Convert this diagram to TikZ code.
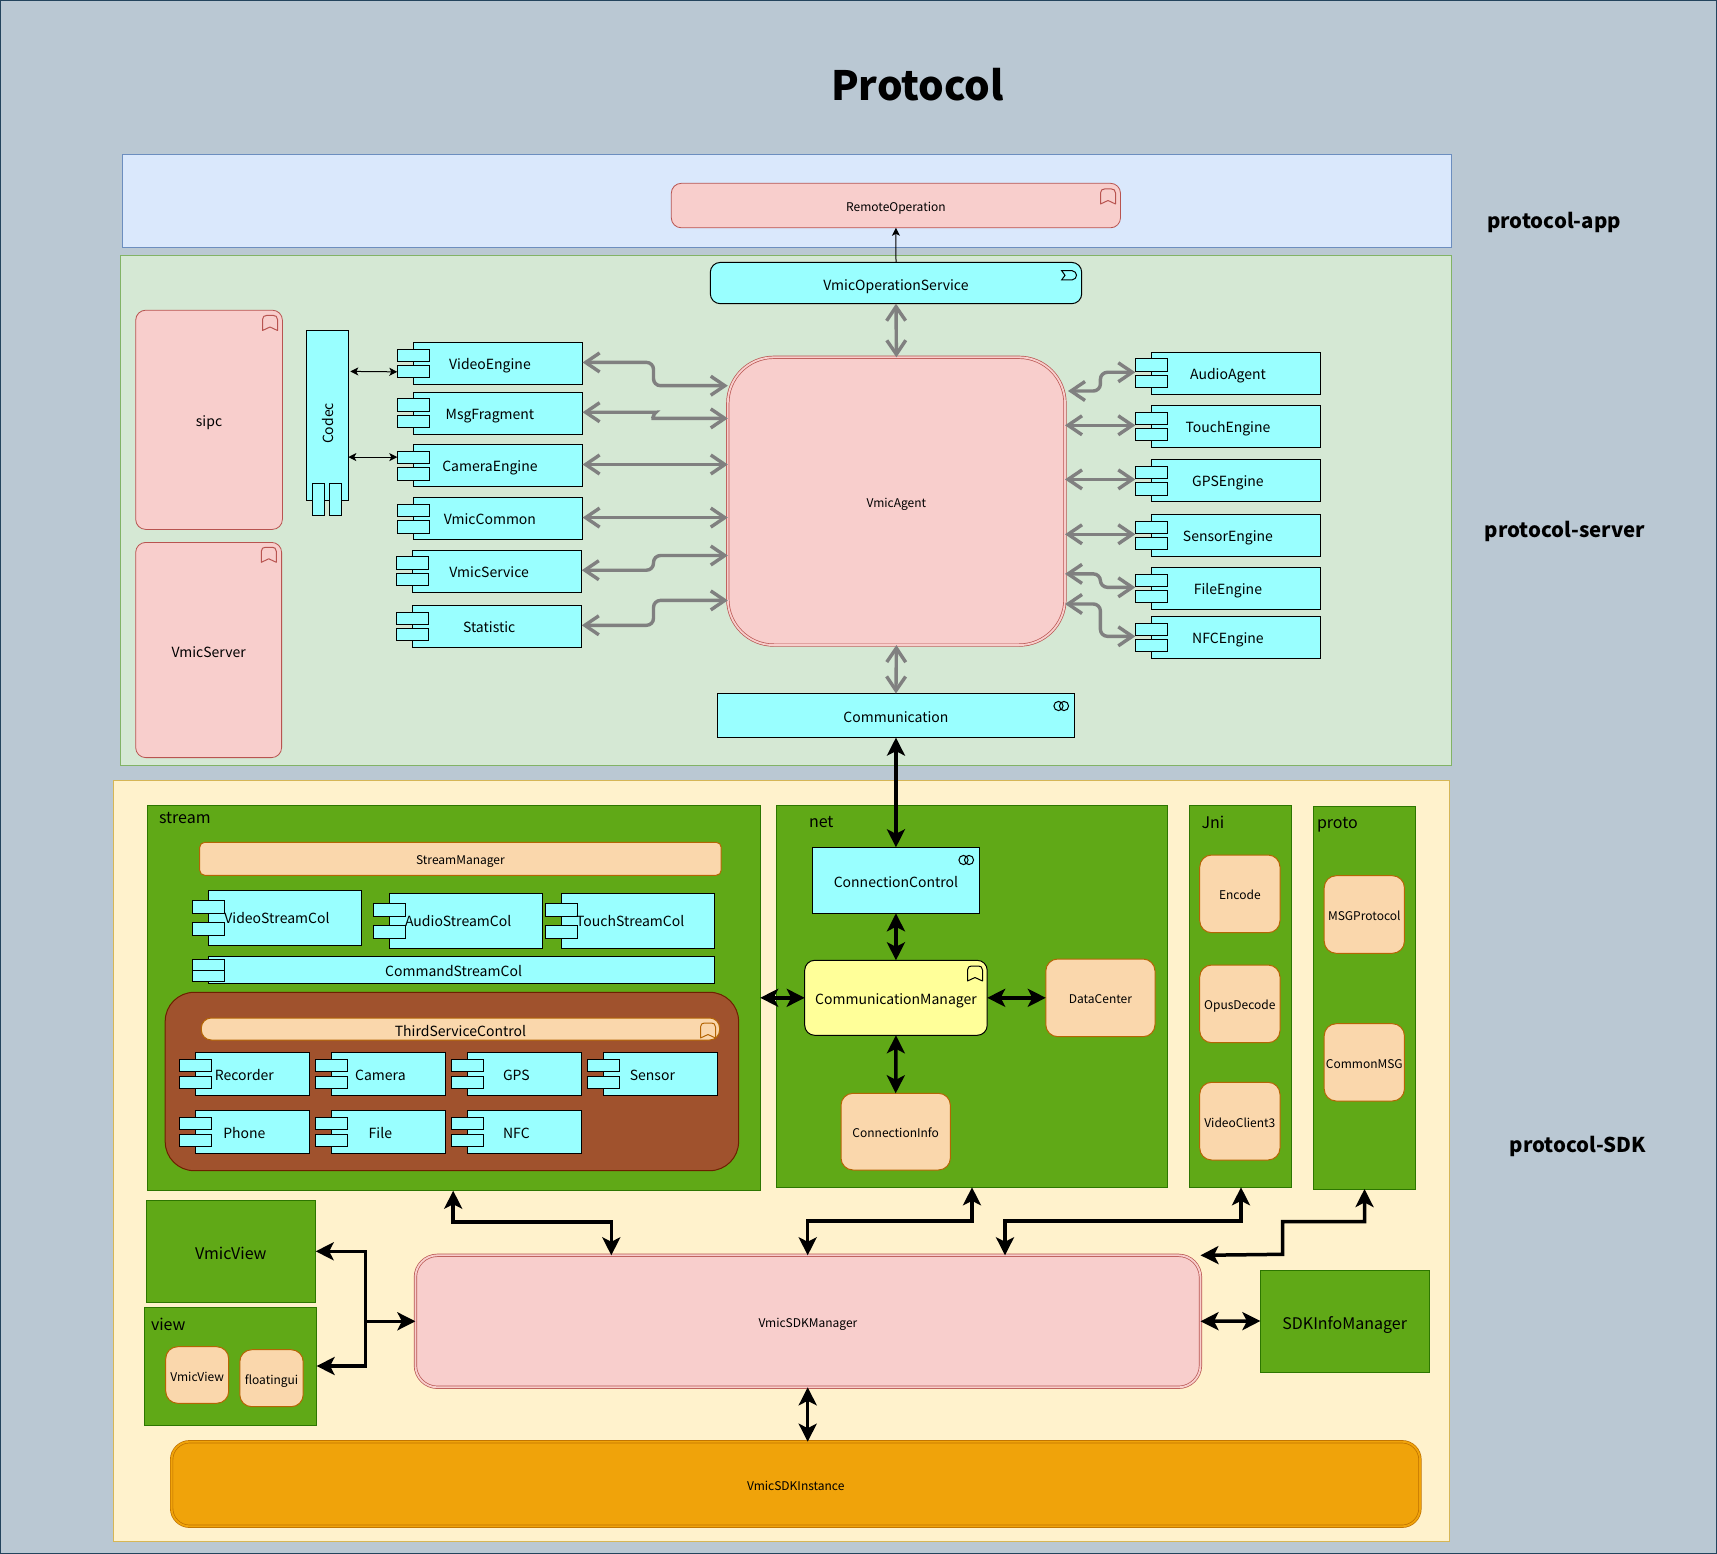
\documentclass[tikz,border=0pt]{standalone}
\usepackage{fontspec}
\setmainfont{Noto Sans CJK SC}
\usetikzlibrary{arrows.meta}
\definecolor{bgc}{HTML}{BAC8D3}\definecolor{bgb}{HTML}{23445D}
\definecolor{bluef}{HTML}{DAE8FC}\definecolor{blueb}{HTML}{6C8EBF}
\definecolor{greenf}{HTML}{D5E8D4}\definecolor{greenb}{HTML}{82B366}
\definecolor{yelf}{HTML}{FFF2CC}\definecolor{yelb}{HTML}{D6B656}
\definecolor{pinkf}{HTML}{F8CECC}\definecolor{pinkb}{HTML}{B85450}
\definecolor{cyanf}{HTML}{99FFFF}
\definecolor{grpf}{HTML}{60A917}\definecolor{grpb}{HTML}{2D7600}
\definecolor{orf}{HTML}{FAD7AC}\definecolor{orb}{HTML}{B46504}
\definecolor{brf}{HTML}{A0522D}\definecolor{brb}{HTML}{6D1F00}
\definecolor{amf}{HTML}{F0A30A}\definecolor{amb}{HTML}{BD7000}
\definecolor{cmf}{HTML}{FFFF99}
\definecolor{gar}{HTML}{808080}
\tikzset{
 every node/.style={inner sep=0pt,outer sep=0pt,font=\fontsize{14}{17}\selectfont},
 laneblue/.style={draw=blueb,fill=bluef,line width=1pt},
 lanegreen/.style={draw=greenb,fill=greenf,line width=1pt},
 laneyellow/.style={draw=yelb,fill=yelf,line width=1pt},
 pinkbox/.style={draw=pinkb,fill=pinkf,line width=.8pt,rounded corners=10pt},
 pinkdouble/.style={draw=pinkb,double=pinkf,double distance=1.8pt,line width=.7pt,fill=pinkf,rounded corners=#1},
 cyanbox/.style={draw=black,fill=cyanf,line width=1pt},
 groupbox/.style={draw=grpb,fill=grpf,line width=1pt},
 orbox/.style={draw=orb,fill=orf,line width=1pt,rounded corners=12pt},
 small/.style={font=\fontsize{12}{14}\selectfont},
 bigtext/.style={font=\fontsize{16}{19}\selectfont},
 glabel/.style={font=\fontsize{16}{19}\selectfont,anchor=west},
 side/.style={font=\fontsize{20.4}{24}\selectfont\bfseries},
 grayarrow/.style={draw=gar,line width=3.4pt,rounded corners=7pt,{Straight Barb[length=14pt,width=19pt]}-{Straight Barb[length=14pt,width=19pt]}},
 blackarrow/.style={draw=black,line width=3.5pt,{Stealth[length=18pt,width=18pt,inset=4.5pt]}-{Stealth[length=18pt,width=18pt,inset=4.5pt]}},
 thinarrow/.style={draw=black,line width=1pt,{Stealth[length=8pt,width=8pt,inset=2pt]}-{Stealth[length=8pt,width=8pt,inset=2pt]}},
 iconline/.style={line width=1pt,fill=none},
}
% name, style, x1, y1, x2, y2, text
\newcommand\bx[7]{\pgfmathsetmacro\wa{(#5)-(#3)}\pgfmathsetmacro\ha{(#6)-(#4)}%
 \node[#2,minimum width=\wa pt,minimum height=\ha pt,anchor=north west] (#1) at (#3,#4) {\raisebox{-.5em}[0pt][0pt]{#7}};}
% server engine: name, x (tab left), y1, y2, text
\newcommand\seng[5]{%
 \bx{#1b}{cyanbox}{#2+16}{#3}{#2+185.3}{#4}{}%
 \bx{#1s}{cyanbox}{#2}{#3+6.7}{#2+32.3}{#3+19}{}%
 \bx{#1t}{cyanbox}{#2}{#3+23.3}{#2+32.3}{#3+35.6}{}%
 \bx{#1}{}{#2}{#3-1}{#2+185.3}{#4-1}{#5}}
% stream component: name, x, y, text
\newcommand\tcomp[4]{%
 \bx{#1b}{cyanbox}{#2+16.2}{#3}{#2+130.2}{#3+43}{}%
 \bx{#1s}{cyanbox}{#2}{#3+7}{#2+32.4}{#3+19}{}%
 \bx{#1t}{cyanbox}{#2}{#3+24}{#2+32.4}{#3+36}{}%
 \bx{#1}{}{#2}{#3}{#2+130.2}{#3+43}{#4}}
\newcommand\mybook[3]{% x y colour
 \draw[iconline,draw=#3,line join=round] (#1,#2+4) .. controls (#1+0,#2+1) and (#1+2,#2) .. (#1+4,#2) -- (#1+11,#2) .. controls (#1+13,#2) and (#1+15,#2+1) .. (#1+15,#2+4) -- (#1+15,#2+15) -- (#1+7.5,#2+11.5) -- (#1,#2+15) -- cycle;}
\newcommand\mycollab[2]{%
 \draw[iconline,draw=black] (#1+5,#2+5) circle (4.6pt) (#1+10.5,#2+5) circle (4.6pt);}
\begin{document}
\begin{tikzpicture}[x=1pt,y=-1pt]
\useasboundingbox (0,0) rectangle (1717,1554);
\draw[fill=bgc,draw=bgb,line width=1.5pt] (0.5,0.5) rectangle (1716.5,1553.5);
\node[font=\fontsize{40.4}{48}\selectfont\bfseries] (title) at (917.5,85) {Protocol};
\bx{lapp}{laneblue}{122.4}{154.3}{1451}{247.8}{}
\bx{lserver}{lanegreen}{120.3}{255.5}{1451}{765.3}{}
\bx{lsdk}{laneyellow}{113}{780}{1449.5}{1541.5}{}
\node[side] (sapp) at (1554,222) {protocol-app};
\node[side] (sserver) at (1565,531) {protocol-server};
\node[side] (ssdk) at (1578,1146) {protocol-SDK};
% app
\bx{remote}{pinkbox,small}{671.3}{183.3}{1120.5}{227.8}{RemoteOperation}
\mybook{1100.5}{189}{pinkb}
% server
\bx{opservice}{cyanbox,rounded corners=10pt}{710.3}{262.4}{1081.7}{303.7}{VmicOperationService}
\draw[iconline,draw=black] (1061.6,270.6) -- (1072,270.6) .. controls (1078,271.5) and (1078,279) .. (1072,280) -- (1061.6,280) -- (1065,275.3) -- cycle;
\bx{sipc}{pinkbox}{135.7}{310.2}{282.4}{529.4}{sipc}
\mybook{262.5}{315.5}{pinkb}
\bx{vserver}{pinkbox}{135.7}{542.4}{281.6}{757.6}{VmicServer}
\mybook{261.3}{547.3}{pinkb}
% codec
\bx{codecb}{cyanbox}{306}{330.2}{348.3}{500.4}{}
\bx{codecs}{cyanbox}{312.3}{483.7}{324.7}{515.9}{}
\bx{codect}{cyanbox}{329.3}{483.7}{341.7}{515.9}{}
\node[rotate=90] (codec) at (328,423.5) {Codec};
% engines
\seng{video}{397.3}{342.4}{384.5}{VideoEngine}
\seng{msg}{397.3}{392.2}{434.3}{MsgFragment}
\seng{camera}{397.3}{444.5}{486.5}{CameraEngine}
\seng{common}{397.3}{497.6}{539.6}{VmicCommon}
\seng{service}{396.5}{550.2}{592.2}{VmicService}
\seng{statistic}{396.5}{605.3}{647.3}{Statistic}
\seng{audio}{1135.3}{352.2}{394.3}{AudioAgent}
\seng{touch}{1135.3}{405.3}{447.3}{TouchEngine}
\seng{gps}{1135.3}{459.6}{501.2}{GPSEngine}
\seng{sensor}{1135.3}{514.3}{556.3}{SensorEngine}
\seng{file}{1135.3}{567.3}{609.4}{FileEngine}
\seng{nfc}{1135.3}{616.3}{658.4}{NFCEngine}
\bx{agent}{pinkdouble=46pt,small}{727.8}{357.3}{1065}{645.1}{VmicAgent}
\bx{communication}{cyanbox}{717.4}{693.5}{1074.5}{737.6}{Communication}
\mycollab{1053.5}{701}
% stream
\bx{stream}{groupbox}{147}{805}{760.2}{1190.7}{}
\node[glabel] (streaml) at (159,818) {stream};
\bx{smanager}{orbox,rounded corners=5pt,small}{199.7}{842.3}{721.2}{875.3}{StreamManager}
\bx{vcolb}{cyanbox}{208.4}{890.3}{361.3}{945.3}{}
\bx{vcols}{cyanbox}{192.6}{900.7}{224.5}{913.3}{}
\bx{vcolt}{cyanbox}{192.6}{922.7}{224.5}{935.3}{}
\bx{vcol}{}{192.6}{889.3}{361.3}{944.3}{VideoStreamCol}
\bx{acolb}{cyanbox}{389.5}{893.3}{542.5}{948.3}{}
\bx{acols}{cyanbox}{373.8}{903.7}{405.7}{916.3}{}
\bx{acolt}{cyanbox}{373.8}{925.7}{405.7}{938.3}{}
\bx{acol}{}{373.8}{892.3}{542.5}{947.3}{AudioStreamCol}
\bx{tcolb}{cyanbox}{561.6}{893.3}{714.6}{948.3}{}
\bx{tcols}{cyanbox}{545.8}{903.7}{577.8}{916.3}{}
\bx{tcolt}{cyanbox}{545.8}{925.7}{577.8}{938.3}{}
\bx{tcol}{}{545.8}{892.3}{714.6}{947.3}{TouchStreamCol}
\bx{ccolb}{cyanbox}{208.4}{956.7}{714.6}{983.3}{}
\bx{ccols}{cyanbox}{192.6}{959}{224.5}{970.3}{}
\bx{ccolt}{cyanbox}{192.6}{970.3}{224.5}{981.3}{}
\bx{ccol}{}{192.6}{955.7}{714.6}{982.3}{CommandStreamCol}
\bx{third}{draw=brb,fill=brf,line width=1pt,rounded corners=29pt}{165.2}{992.3}{738.6}{1170.7}{}
\bx{tsc}{orbox,rounded corners=10pt}{201.3}{1018}{719.6}{1040}{ThirdServiceControl}
\mybook{700.5}{1023}{orb}
\tcomp{recorder}{179.3}{1052.3}{Recorder}
\tcomp{camerat}{315.3}{1052.3}{Camera}
\tcomp{gpst}{451.3}{1052.3}{GPS}
\tcomp{sensort}{587.3}{1052.3}{Sensor}
\tcomp{phone}{179.3}{1110.3}{Phone}
\tcomp{filet}{315.3}{1110.3}{File}
\tcomp{nfct}{451.3}{1110.3}{NFC}
% net
\bx{net}{groupbox}{776}{805}{1167.6}{1187.3}{}
\node[glabel] (netl) at (809,822.5) {net};
\bx{cc}{cyanbox}{812.5}{847.3}{979.4}{913.3}{ConnectionControl}
\mycollab{958.5}{855}
\bx{cm}{draw=black,fill=cmf,line width=1pt,rounded corners=10pt}{804.7}{960.3}{987.2}{1035.3}{CommunicationManager}
\mybook{967.5}{966}{black}
\bx{dc}{orbox,small}{1045.8}{959}{1155}{1036.7}{DataCenter}
\bx{ci}{orbox,small}{841}{1093.3}{950.4}{1170}{ConnectionInfo}
% jni
\bx{jni}{groupbox}{1189.3}{805}{1291.6}{1187.3}{}
\node[glabel] (jnil) at (1201.5,822) {Jni};
\bx{encode}{orbox,small}{1199.7}{855}{1280}{932.7}{Encode}
\bx{opus}{orbox,small}{1199.7}{965}{1280}{1042.7}{OpusDecode}
\bx{vc3}{orbox,small}{1199.7}{1082.3}{1280}{1160}{VideoClient3}
% proto
\bx{proto}{groupbox}{1313.3}{806.7}{1415.7}{1189}{}
\node[glabel] (protol) at (1317,824.5) {proto};
\bx{msgp}{orbox,small}{1324.2}{875.7}{1404.4}{953.3}{MSGProtocol}
\bx{cmsg}{orbox,small}{1324.2}{1023.7}{1404.4}{1101}{CommonMSG}
% view
\bx{vmicview}{groupbox,bigtext}{146}{1200.3}{315.7}{1302.7}{VmicView}
\bx{view}{groupbox}{144.8}{1307.3}{316.6}{1425.7}{}
\node[glabel] (viewl) at (151,1324.3) {view};
\bx{iview}{orbox,small}{165.7}{1346.7}{228.7}{1403.3}{VmicView}
\bx{floating}{orbox,small}{239.8}{1349.7}{303.2}{1406.7}{floatingui}
\bx{sdkm}{pinkdouble=22pt,small}{415.4}{1255.3}{1200.5}{1387.3}{VmicSDKManager}
\bx{info}{groupbox,bigtext}{1260.4}{1270}{1429}{1372}{SDKInfoManager}
\bx{inst}{draw=amb,double=amf,double distance=1.8pt,line width=.7pt,fill=amf,rounded corners=18pt,small}{171.6}{1441.7}{1420}{1526.3}{VmicSDKInstance}
% connectors
\draw[draw=black,line width=1pt,-{Stealth[length=8pt,width=8pt,inset=2pt]}] (opservice.north) -- (remote.south);
\draw[grayarrow] (opservice.south) -- (agent.north);
\draw[grayarrow] (agent.south) -- (communication.north);
\draw[thinarrow] (codecb.east |- 0,371.4) ++(2,0) -- (videot.west);
\draw[thinarrow] (codecb.east |- 0,457.1) -- (camera.west |- 0,457.1);
\draw[grayarrow] (video.east) -- (653.5,362.4) -- (653.5,385.7) -- (agent.west |- 0,385.7);
\draw[grayarrow] (msg.east) -- (649,412.2) .. controls (655,412.2) and (652,418.4) .. (660,418.4) -- (agent.west |- 0,418.4);
\draw[grayarrow] (camera.east) -- (agent.west |- camera.east);
\draw[grayarrow] (common.east) -- (agent.west |- common.east);
\draw[grayarrow] (service.east) -- (653.5,570.2) -- (653.5,555.5) -- (agent.west |- 0,555.5);
\draw[grayarrow] (statistic.east) -- (653.5,625.3) -- (653.5,600.4) -- (agent.west |- 0,600.4);
\draw[grayarrow] (agent.east |- 0,391) ++(3,0) -- (1100.4,391) -- (1100.4,372.3) -- (audio.west);
\draw[grayarrow] (agent.east |- touch.west) -- (touch.west);
\draw[grayarrow] (agent.east |- gps.west) -- (gps.west);
\draw[grayarrow] (agent.east |- sensor.west) -- (sensor.west);
\draw[grayarrow] (agent.east |- 0,573.9) -- (1100.4,573.9) -- (1100.4,587.3) -- (file.west);
\draw[grayarrow] (agent.east |- 0,604) -- (1100.4,604) -- (1100.4,636.3) -- (nfc.west);
\draw[blackarrow] (communication.south) -- (cc.north);
\draw[blackarrow] (cc.south) -- (cm.north);
\draw[blackarrow] (cm.south) -- (ci.north);
\draw[blackarrow] (cm.east) -- (dc.west |- cm.east);
\draw[blackarrow] (stream.east |- cm.west) -- (cm.west);
\draw[blackarrow] (453.2,1190.7) -- (453.2,1222) -- (611.3,1222) -- (sdkm.north -| 611.3,0);
\draw[blackarrow] (972,1187.3) -- (972,1221) -- (807.7,1221) -- (sdkm.north -| 807.7,0);
\draw[blackarrow] (1241,1187.3) -- (1241,1221) -- (1005,1221) -- (sdkm.north -| 1005,0);
\draw[blackarrow] (1364.5,1189) -- (1364.5,1221.7) -- (1282.5,1221.7) -- (1282.5,1254.3) -- (sdkm.north east);
\coordinate (jct) at (365.3,1321.3);
\draw[blackarrow] (vmicview.east |- 0,1251.3) -- (365.3,1251.3) -- (365.3,1366) -- (view.east |- 0,1366);
\draw[draw=black,line width=3.5pt,-{Stealth[length=18pt,width=18pt,inset=4.5pt]}] (jct) -- (sdkm.west);
\draw[blackarrow] (sdkm.east) -- (info.west);
\draw[blackarrow] (sdkm.south -| 807.7,0) -- (inst.north -| 807.7,0);
\end{tikzpicture}
\end{document}
